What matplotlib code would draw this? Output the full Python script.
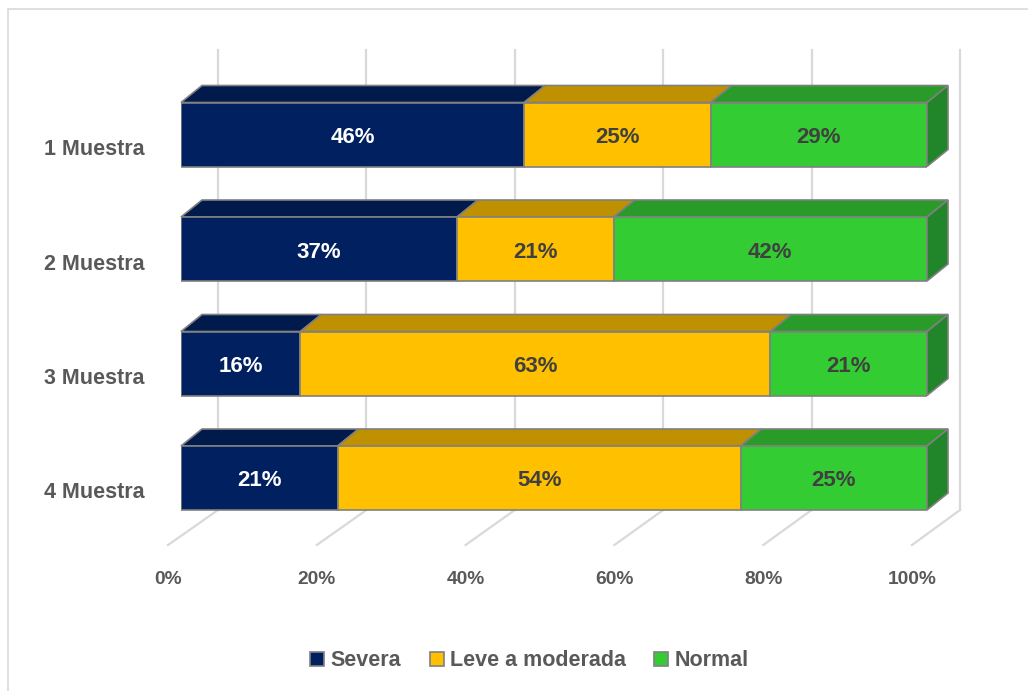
import matplotlib.pyplot as plt
from matplotlib.patches import Polygon, Rectangle, Patch
from matplotlib.lines import Line2D

categories = ['1 Muestra', '2 Muestra', '3 Muestra', '4 Muestra']
series = ['Severa', 'Leve a moderada', 'Normal']
severa = [46, 37, 16, 21]
leve = [25, 21, 63, 54]
normal = [29, 42, 21, 25]
ticks = [0, 20, 40, 60, 80, 100]

front_colors = ['#002060', '#FFC000', '#33CC33']
top_colors = ['#001A4C', '#BF9000', '#289B28']
side_colors = ['#00163F', '#A67D00', '#21862A']
text_colors = ['white', '#404040', '#404040']
edge = '#808080'
grid = '#D9D9D9'
gray_text = '#595959'

plt.rcParams['font.family'] = 'Liberation Sans'

W, H = 1028, 691
fig = plt.figure(figsize=(W / 100, H / 100), dpi=100)
ax = fig.add_axes([181 / W, 1 - 535.25 / H, 746 / W, 458 / H])
ax.set_xlim(0, 100)
ax.set_ylim(3.5, -0.5)
ax.axis('off')

# pixel -> data conversion (y grows downward because the axis is inverted)
ppx = ax.bbox.width / 100
ppy = ax.bbox.height / 4
def to_x(p):
    return (p - 181) / ppx
def to_y(p):
    return (p - 134.5) / ppy

# oblique offset of the bar depth
ddx, ddy = 21 / ppx, -17 / ppy
bar_h = 64 / ppy
txt_dy = 3 / ppy  # nudge so the caps sit on the visual centre

# back wall gridlines and floor lines
wall_top, wall_bot, floor_front = to_y(50), to_y(510), to_y(545)
for t in ticks:
    xb = to_x(218 + 7.42 * t)
    xf = to_x(168 + 7.44 * t)
    ax.add_line(Line2D([xb, xb], [wall_top, wall_bot], color=grid, lw=1.6,
                       zorder=0, clip_on=False))
    ax.add_line(Line2D([xb, xf], [wall_bot, floor_front], color=grid, lw=1.6,
                       zorder=0, clip_on=False))
    ax.text(xf, to_y(576) + txt_dy, f'{t}%', ha='center', va='center', fontsize=13.8,
            fontweight='bold', color=gray_text, clip_on=False)

values = [severa, leve, normal]
for i, cat in enumerate(categories):
    y0 = i - bar_h / 2
    left = 0
    for k in range(len(series)):
        v = values[k][i]
        right = left + v
        # front face
        ax.add_patch(Rectangle((left, y0), v, bar_h, facecolor=front_colors[k],
                               edgecolor=edge, lw=1.2, zorder=3))
        # top face
        ax.add_patch(Polygon([(left, y0), (right, y0), (right + ddx, y0 + ddy),
                              (left + ddx, y0 + ddy)], closed=True,
                             facecolor=top_colors[k], edgecolor=edge, lw=1.2,
                             zorder=2, clip_on=False))
        if k == len(series) - 1:
            # right side face
            ax.add_patch(Polygon([(right, y0), (right + ddx, y0 + ddy),
                                  (right + ddx, y0 + ddy + bar_h), (right, y0 + bar_h)],
                                 closed=True, facecolor=side_colors[k], edgecolor=edge,
                                 lw=1.2, zorder=2, clip_on=False))
        ax.text((left + right) / 2, i + txt_dy, f'{v}%', ha='center', va='center',
                fontsize=16, fontweight='bold', color=text_colors[k], zorder=4)
        left = right
    ax.text(to_x(145), i + 12 / ppy + txt_dy, cat, ha='right', va='center',
            fontsize=15.5, fontweight='bold', color=gray_text, clip_on=False)

handles = [Patch(facecolor=c, edgecolor=edge, lw=1.2) for c in front_colors]
leg = fig.legend(handles, series, loc='center', ncol=3, frameon=False,
                 bbox_to_anchor=(529.5 / W, 1 - 661 / H),
                 prop={'size': 15.5, 'weight': 'bold'},
                 handlelength=0.65, handleheight=0.65, handletextpad=0.3,
                 columnspacing=1.3)
for txt in leg.get_texts():
    txt.set_color(gray_text)

# chart area outline
fig.add_artist(Rectangle((8 / W, -0.1), 2, 1 - 9 / H + 0.1, transform=fig.transFigure,
                         fill=False, edgecolor=grid, lw=1.2))

fig.savefig('out.png', dpi=100)
